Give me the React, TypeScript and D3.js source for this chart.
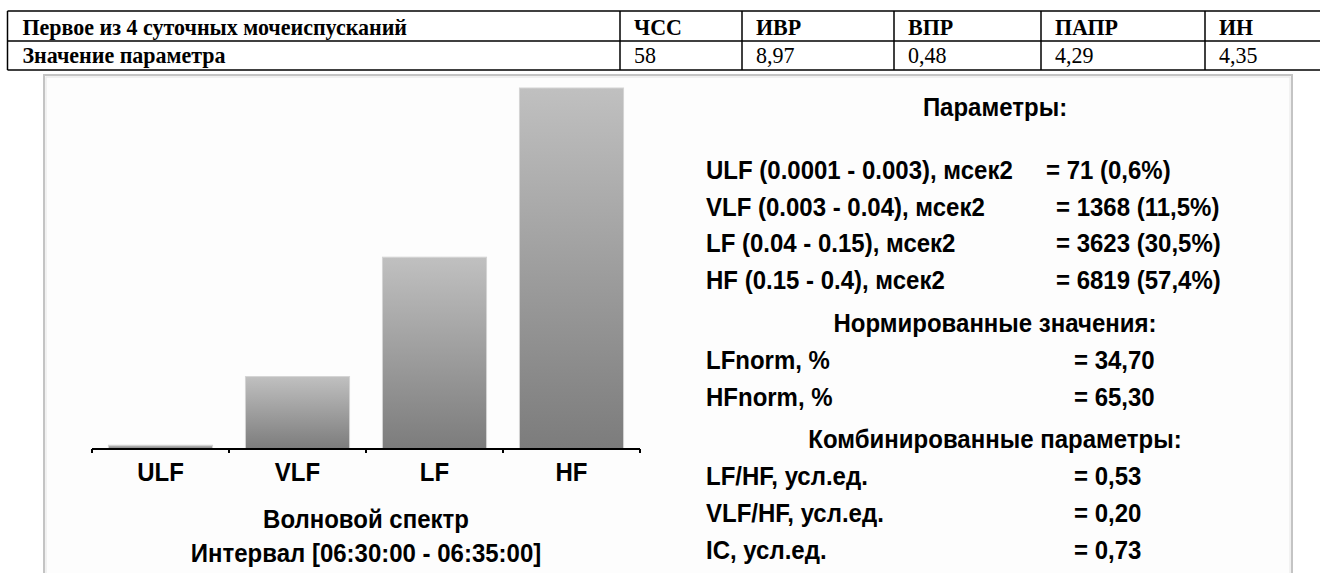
import * as d3 from "d3";

// table above the spectrum panel
const tableHeaders = ["Первое из 4 суточных мочеиспусканий", "ЧСС", "ИВР", "ВПР", "ПАПР", "ИН"];
const tableValues = ["Значение параметра", "58", "8,97", "0,48", "4,29", "4,35"];

// spectrum bands
const bands = ["ULF", "VLF", "LF", "HF"];
const bandPower = [71, 1368, 3623, 6819];
const bandRanges = ["0.0001 - 0.003", "0.003 - 0.04", "0.04 - 0.15", "0.15 - 0.4"];
const bandShare = ["0,6", "11,5", "30,5", "57,4"];

const normLabels = ["LFnorm, %", "HFnorm, %"];
const normValues = ["34,70", "65,30"];

const combLabels = ["LF/HF, усл.ед.", "VLF/HF, усл.ед.", "IC, усл.ед."];
const combValues = ["0,53", "0,20", "0,73"];

const chartTitle = "Волновой спектр";
const intervalLabel = "Интервал [06:30:00 - 06:35:00]";

const W = 1320;
const H = 573;

const serif = "'Liberation Serif', 'Times New Roman', serif";
const sans = "'Liberation Sans', Arial, sans-serif";

// the original uses a tall bitmap-like font, so stretch text a little vertically
function T(props: { x: number; y: number; anchor?: string; children: any }) {
  const { x, y, anchor, children } = props;
  return (
    <text transform={`translate(${x},${y}) scale(1,1.1)`} dy="0.35em" textAnchor={anchor ?? "start"}>
      {children}
    </text>
  );
}

export default function App() {
  // table geometry
  const colX = [7.5, 620, 742, 894, 1041, 1205, 1340];
  const rowY = [11, 41, 70];

  // bar chart
  const x = d3.scaleBand<string>().domain(bands).range([92, 640]).paddingInner(0.24).paddingOuter(0.12);
  const y = d3.scaleLinear().domain([0, d3.max(bandPower) ?? 1]).range([449, 88]);
  const tickX = bands.map((b) => (x(b) ?? 0) - x.step() * 0.12).concat([640]);

  // right panel rows (text centre lines)
  const labelX = 706;
  const headCx = 995;
  const bandRowY = [170, 207, 243, 280];
  const bandValX = [1046, 1056, 1056, 1056];
  const normRowY = [360, 397];
  const combRowY = [476, 513, 550];
  const valX = 1074;
  const fs = 24;

  return (
    <svg width={W} height={H} style={{ position: "absolute", left: 0, top: 0, display: "block", background: "#fff" }}>
      <defs>
        <linearGradient id="barGrad" x1="0" y1="0" x2="0" y2="1">
          <stop offset="0%" stopColor="#c0c0c0" />
          <stop offset="100%" stopColor="#7c7c7c" />
        </linearGradient>
      </defs>

      {/* table */}
      <g fill="none" stroke="#000" strokeWidth={1.5}>
        {rowY.map((ry, i) => (
          <line key={"r" + i} x1={colX[0]} x2={W} y1={ry} y2={ry} />
        ))}
        {colX.slice(0, -1).map((cx, i) => (
          <line key={"c" + i} x1={cx} x2={cx} y1={rowY[0]} y2={rowY[2]} />
        ))}
      </g>
      <g fontFamily={serif} fontSize={22} fill="#000">
        {tableHeaders.map((t, i) => (
          <text key={"h" + i} transform={`translate(${colX[i] + (i === 0 ? 15 : 14)},35) scale(1,1.05)`} fontWeight="bold">
            {t}
          </text>
        ))}
        {tableValues.map((t, i) => (
          <text
            key={"v" + i}
            transform={`translate(${colX[i] + (i === 0 ? 15 : 14)},63) scale(1,1.05)`}
            fontWeight={i === 0 ? "bold" : "normal"}
          >
            {t}
          </text>
        ))}
      </g>

      {/* panel frame */}
      <rect x={44} y={75} width={1248} height={540} fill="#fdfdfd" stroke="#c4c4c4" strokeWidth={2} />
      <rect x={46} y={77} width={1244} height={536} fill="none" stroke="#e6e6e6" strokeWidth={1} />

      {/* bars */}
      <g>
        {bands.map((b, i) => (
          <rect
            key={b}
            x={x(b)}
            y={y(bandPower[i])}
            width={x.bandwidth()}
            height={y(0) - y(bandPower[i])}
            fill="url(#barGrad)"
            stroke="#d4d4d4"
            strokeWidth={1}
          />
        ))}
      </g>

      {/* category axis */}
      <g stroke="#000" strokeWidth={2}>
        <line x1={92} x2={640} y1={y(0)} y2={y(0)} />
        {tickX.map((tx, i) => (
          <line key={i} x1={tx} x2={tx} y1={y(0)} y2={y(0) + 4} />
        ))}
      </g>
      <g fontFamily={sans} fontSize={fs} fontWeight="bold" fill="#000">
        {bands.map((b) => (
          <T key={b} x={(x(b) ?? 0) + x.bandwidth() / 2} y={472} anchor="middle">
            {b}
          </T>
        ))}
        <T x={366} y={519} anchor="middle">
          {chartTitle}
        </T>
        <T x={366} y={553} anchor="middle">
          {intervalLabel}
        </T>
      </g>

      {/* parameter list */}
      <g fontFamily={sans} fontSize={fs} fontWeight="bold" fill="#000">
        <T x={headCx} y={107} anchor="middle">
          Параметры:
        </T>
        {bands.map((b, i) => (
          <g key={b}>
            <T x={labelX} y={bandRowY[i]}>{`${b} (${bandRanges[i]}), мсек2`}</T>
            <T x={bandValX[i]} y={bandRowY[i]}>{`= ${bandPower[i]} (${bandShare[i]}%)`}</T>
          </g>
        ))}
        <T x={headCx} y={323} anchor="middle">
          Нормированные значения:
        </T>
        {normLabels.map((l, i) => (
          <g key={l}>
            <T x={labelX} y={normRowY[i]}>{l}</T>
            <T x={valX} y={normRowY[i]}>{`= ${normValues[i]}`}</T>
          </g>
        ))}
        <T x={headCx} y={439} anchor="middle">
          Комбинированные параметры:
        </T>
        {combLabels.map((l, i) => (
          <g key={l}>
            <T x={labelX} y={combRowY[i]}>{l}</T>
            <T x={valX} y={combRowY[i]}>{`= ${combValues[i]}`}</T>
          </g>
        ))}
      </g>
    </svg>
  );
}
